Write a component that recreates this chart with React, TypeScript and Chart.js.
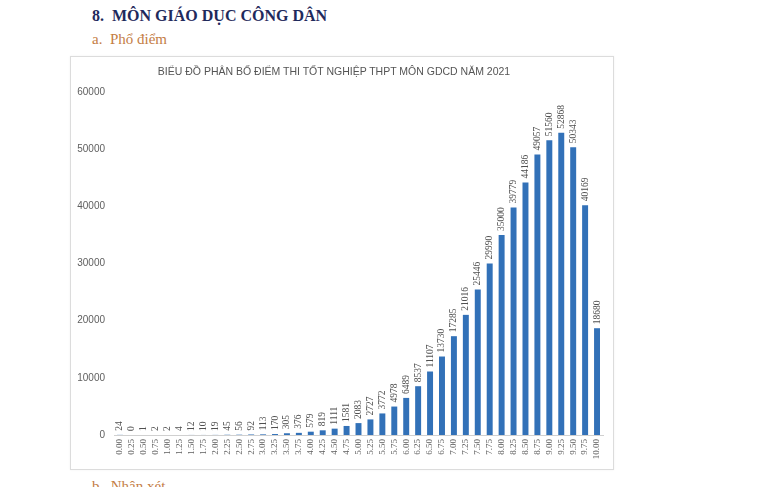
import React, { useEffect, useRef } from "react";
import { Chart, registerables } from "chart.js";

Chart.register(...registerables);

const categories: string[] = [
  "0.00","0.25","0.50","0.75","1.00","1.25","1.50","1.75","2.00","2.25",
  "2.50","2.75","3.00","3.25","3.50","3.75","4.00","4.25","4.50","4.75",
  "5.00","5.25","5.50","5.75","6.00","6.25","6.50","6.75","7.00","7.25",
  "7.50","7.75","8.00","8.25","8.50","8.75","9.00","9.25","9.50","9.75","10.00",
];

const counts: number[] = [
  24, 0, 1, 2, 2, 4, 12, 10, 19, 45,
  56, 92, 113, 170, 305, 376, 579, 819, 1111, 1581,
  2083, 2727, 3772, 4978, 6489, 8537, 11107, 13730, 17285, 21016,
  25446, 29990, 35000, 39779, 44186, 49057, 51560, 52868, 50343, 40169, 18680,
];

const heading = "8.  MÔN GIÁO DỤC CÔNG DÂN";
const subheading = "a.  Phổ điểm";
const nextHeading = "b.  Nhận xét";
const chartTitle = "BIỂU ĐỒ PHÂN BỐ ĐIỂM THI TỐT NGHIỆP THPT MÔN GDCD NĂM 2021";
const yMax = 60000;
const yStep = 10000;

const valueLabelPlugin = {
  id: "valueLabels",
  afterDatasetsDraw(chart: any) {
    const ctx = chart.ctx;
    const meta = chart.getDatasetMeta(0);
    const data = chart.data.datasets[0].data as number[];
    ctx.save();
    ctx.font = "9.5px 'Liberation Serif', 'Times New Roman', serif";
    ctx.fillStyle = "#505050";
    ctx.textAlign = "left";
    ctx.textBaseline = "middle";
    meta.data.forEach((bar: any, i: number) => {
      ctx.save();
      ctx.translate(bar.x, bar.y - 4);
      ctx.rotate(-Math.PI / 2);
      ctx.fillText(String(data[i]), 0, 0);
      ctx.restore();
    });
    ctx.restore();
  },
};

function ScoreChart() {
  const ref = useRef<HTMLCanvasElement | null>(null);
  useEffect(() => {
    if (!ref.current) return;
    const chart = new Chart(ref.current, {
      type: "bar",
      data: {
        labels: categories,
        datasets: [
          {
            data: counts,
            backgroundColor: "#3271b8",
            borderWidth: 0,
            barPercentage: 0.5,
            categoryPercentage: 1,
          },
        ],
      },
      options: {
        animation: false,
        responsive: false,
        maintainAspectRatio: false,
        layout: { padding: { top: 36, right: 11, left: 0, bottom: 0 } },
        plugins: {
          legend: { display: false },
          title: { display: false },
          tooltip: { enabled: false },
        },
        scales: {
          x: {
            offset: true,
            grid: { display: false, drawTicks: false },
            border: { display: true, color: "#d0d0d0" },
            ticks: {
              autoSkip: false,
              maxRotation: 90,
              minRotation: 90,
              padding: 4,
              color: "#606060",
              font: { size: 9, family: "'Liberation Serif', serif" },
            },
            afterFit(scale: any) {
              scale.height = 35;
            },
          },
          y: {
            min: 0,
            max: yMax,
            grid: { display: false, drawTicks: false },
            border: { display: false },
            ticks: {
              stepSize: yStep,
              padding: 9,
              color: "#606060",
              font: { size: 10, family: "'Liberation Sans', Arial, sans-serif" },
              callback: (v: any) => String(v),
            },
            afterFit(scale: any) {
              scale.width = 44;
            },
          },
        },
      },
      plugins: [valueLabelPlugin],
    });
    return () => chart.destroy();
  }, []);
  return <canvas ref={ref} width={544} height={414} style={{ display: "block" }} />;
}

export default function App() {
  return (
    <div
      style={{
        position: "fixed",
        left: 0,
        top: 0,
        width: 768,
        height: 487,
        overflow: "hidden",
        background: "#ffffff",
      }}
    >
      <div
        style={{
          position: "absolute",
          left: 92,
          top: 7,
          fontFamily: "'Liberation Serif', 'Times New Roman', serif",
          fontWeight: "bold",
          fontSize: 16,
          color: "#1f2a5c",
          whiteSpace: "pre",
        }}
      >
        {heading}
      </div>
      <div
        style={{
          position: "absolute",
          left: 92,
          top: 31,
          fontFamily: "'Liberation Serif', 'Times New Roman', serif",
          fontSize: 15,
          color: "#c47d45",
          whiteSpace: "pre",
        }}
      >
        {subheading}
      </div>
      <div
        style={{
          position: "absolute",
          left: 70,
          top: 56,
          width: 544,
          height: 414,
          border: "1px solid #dcdcdc",
          boxSizing: "border-box",
          boxShadow: "0 0 2px rgba(0,0,0,0.06)",
        }}
      />
      <div style={{ position: "absolute", left: 70, top: 56 }}>
        <ScoreChart />
      </div>
      <div
        style={{
          position: "absolute",
          left: 70,
          width: 528,
          top: 65,
          textAlign: "center",
          fontFamily: "'Liberation Sans', Arial, sans-serif",
          fontSize: 10.5,
          color: "#555555",
          whiteSpace: "nowrap",
        }}
      >
        {chartTitle}
      </div>
      <div
        style={{
          position: "absolute",
          left: 92,
          top: 478,
          fontFamily: "'Liberation Serif', 'Times New Roman', serif",
          fontSize: 15,
          color: "#c47d45",
          whiteSpace: "pre",
        }}
      >
        {nextHeading}
      </div>
    </div>
  );
}
